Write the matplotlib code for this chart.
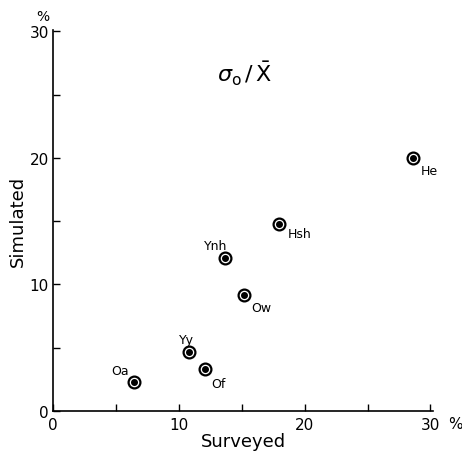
import matplotlib
matplotlib.use("Agg")
import matplotlib.pyplot as plt
from matplotlib.ticker import MultipleLocator

names = ["Oa", "Yy", "Of", "Ow", "Ynh", "Hsh", "He"]
surveyed = [6.4, 10.8, 12.1, 15.2, 13.7, 18.0, 28.6]
simulated = [2.3, 4.7, 3.3, 9.2, 12.1, 14.8, 20.0]
# label offsets in points
offsets = [(-10, 8), (-2, 9), (4, -10), (5, -9), (-7, 9), (6, -7), (6, -9)]

fig = plt.figure(figsize=(4.62, 4.52), dpi=100)
ax = fig.add_axes([0.115, 0.0885, 0.822, 0.843])

ax.plot(surveyed, simulated, 'o', ms=8.5, mfc='white', mec='black', mew=1.6, ls='none')
ax.plot(surveyed, simulated, 'o', ms=4, color='black', ls='none')
for n, x, y, (dx, dy) in zip(names, surveyed, simulated, offsets):
    ax.annotate(n, (x, y), xytext=(dx, dy), textcoords='offset points',
                fontsize=9, ha='left' if dx > 0 else 'center', va='center')

ax.set_xlim(0, 30.2)
ax.set_ylim(0, 30.1)
ax.xaxis.set_major_locator(MultipleLocator(10))
ax.xaxis.set_minor_locator(MultipleLocator(5))
ax.yaxis.set_major_locator(MultipleLocator(10))
ax.yaxis.set_minor_locator(MultipleLocator(5))
ax.tick_params(which='both', direction='in', length=5, width=1, labelsize=11, pad=3)
ax.tick_params(axis='x', pad=4)
for s in ["top", "right"]:
    ax.spines[s].set_visible(False)
for s in ["left", "bottom"]:
    ax.spines[s].set_linewidth(1.2)

ax.set_xlabel("Surveyed", fontsize=13, labelpad=0)
ax.set_ylabel("Simulated", fontsize=13, labelpad=2)
ax.text(-0.8, 31.2, "%", fontsize=10, ha='center', va='center')
ax.text(32.0, -0.95, "%", fontsize=11, ha='center', va='center')
ax.text(15.2, 26.7, r'$\sigma_{\rm o}\,/\,\bar{\rm X}$', fontsize=16, ha='center', va='center')

fig.savefig("out.png", dpi=100)
